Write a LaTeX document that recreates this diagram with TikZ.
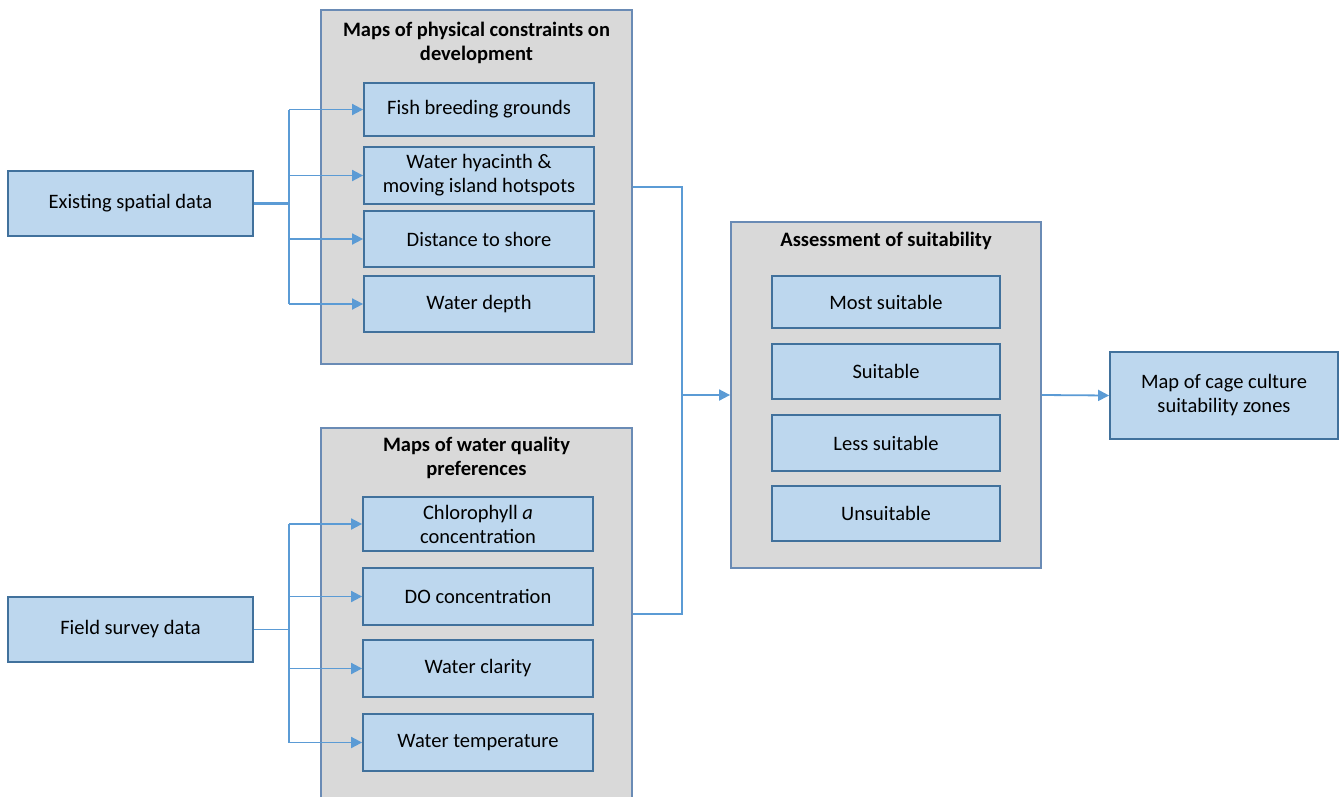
\documentclass[tikz,border=0pt]{standalone}
\usepackage{fontspec}
\setmainfont{Carlito}
\usetikzlibrary{arrows.meta}
\definecolor{innerfill}{HTML}{BDD7EE}
\definecolor{innerline}{HTML}{41719C}
\definecolor{grpfill}{HTML}{D9D9D9}
\definecolor{grpline}{HTML}{6A8BB5}
\definecolor{connline}{HTML}{5B9BD5}
\begin{document}
\begin{tikzpicture}[x=1pt,y=-1pt,
  box/.style={draw=innerline, fill=innerfill, line width=1.8pt, inner sep=0pt, align=center, font=\fontsize{20.5}{24}\selectfont},
  grpbox/.style={draw=grpline, fill=grpfill, line width=1.8pt, inner sep=0pt},
  ttl/.style={font=\fontsize{20.5}{24}\selectfont\bfseries, align=center, inner sep=0pt},
  cline/.style={draw=connline, line width=1.8pt},
  arr/.style={cline, -{Triangle[length=11pt,width=11pt]}}]
\useasboundingbox (0,0) rectangle (1339,796);
% groups
\node[grpbox, minimum width=311pt, minimum height=354pt] (g1) at (476.5,187) {};
\node[ttl] (g1t) at (476.5,43) {Maps of physical constraints on\\development};
\node[grpbox, minimum width=311pt, minimum height=372pt] (g2) at (476.5,614) {};
\node[ttl] (g2t) at (476.5,458) {Maps of water quality\\preferences};
\node[grpbox, minimum width=310pt, minimum height=346pt] (asu) at (886,395) {};
\node[ttl] (asut) at (886,241) {Assessment of suitability};
% sources
\node[box, minimum width=245pt, minimum height=65pt] (esd) at (130.5,203.5) {Existing spatial data};
\node[box, minimum width=245pt, minimum height=65pt] (fsd) at (130.5,629.5) {Field survey data};
% group 1 items
\node[box, minimum width=230pt, minimum height=53pt] (fbg) at (479,109.5) {Fish breeding grounds};
\node[box, minimum width=230pt, minimum height=57pt] (whh) at (479,175.5) {Water hyacinth \&\\moving island hotspots};
\node[box, minimum width=230pt, minimum height=56pt] (dts) at (479,239) {Distance to shore};
\node[box, minimum width=230pt, minimum height=56pt] (wd) at (479,304) {Water depth};
% group 2 items
\node[box, minimum width=230pt, minimum height=54pt] (chl) at (478,524) {Chlorophyll \textit{a}\\concentration};
\node[box, minimum width=230pt, minimum height=57pt] (doc) at (478,596.5) {DO concentration};
\node[box, minimum width=230pt, minimum height=57pt] (wcl) at (478,668.5) {Water clarity};
\node[box, minimum width=230pt, minimum height=57pt] (wtp) at (478,742.5) {Water temperature};
% assessment items
\node[box, minimum width=228pt, minimum height=52pt] (ms) at (886,302) {Most suitable};
\node[box, minimum width=228pt, minimum height=55pt] (su) at (886,371.5) {Suitable};
\node[box, minimum width=228pt, minimum height=56pt] (ls) at (886,443) {Less suitable};
\node[box, minimum width=228pt, minimum height=55pt] (us) at (886,513.5) {Unsuitable};
% output
\node[box, minimum width=228pt, minimum height=87pt] (map) at (1224,395.5) {Map of cage culture\\suitability zones};
% connectors group 1
\coordinate (j1) at (289,203.5);
\draw[cline, line width=2.6pt] (esd.east) -- (j1);
\draw[cline] (j1 |- fbg.west) -- (j1 |- wd.west);
\foreach \n in {fbg,whh,dts,wd} \draw[arr] (j1 |- \n.west) -- (\n.west);
% connectors group 2
\coordinate (j2) at (289,629.5);
\draw[cline] (fsd.east) -- (j2);
\draw[cline] (j2 |- chl.west) -- (j2 |- wtp.west);
\foreach \n in {chl,doc,wcl,wtp} \draw[arr] (j2 |- \n.west) -- (\n.west);
% merge to assessment
\coordinate (k1) at (682,187);
\coordinate (k2) at (682,614);
\coordinate (k) at (682,395);
\draw[cline] (g1.east) -- (k1) -- (k2) -- (g2.east);
\draw[arr] (k) -- (asu.west);
\draw[arr] (asu.east) -- (map.west);
\end{tikzpicture}
\end{document}
